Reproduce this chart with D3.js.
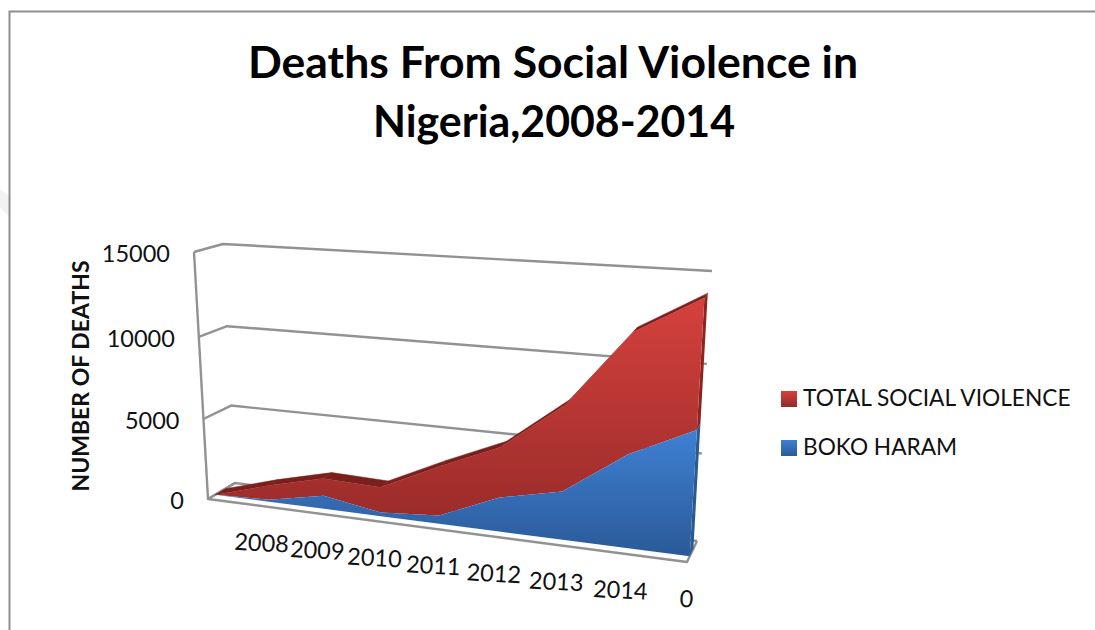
<!DOCTYPE html>
<html><head><meta charset="utf-8">
<script src="https://cdn.jsdelivr.net/npm/d3@7"></script>
<style>html,body{margin:0;padding:0;background:#fff}svg{display:block}text{font-family:Lato,"Open Sans",sans-serif;fill:#111}</style>
</head><body><svg id="c" width="1095" height="630"></svg>
<script>
const categories = ["", "2008", "2009", "2010", "2011", "2012", "2013", "2014", "0"];
const bokoHaram = [0, 120, 800, 220, 490, 1990, 2770, 5300, 7000];
const totalViolence = [0, 1000, 1850, 1750, 3400, 4930, 7670, 12000, 14050];
const yTicks = [0, 5000, 10000, 15000];
const titleLines = ["Deaths From Social Violence in", "Nigeria,2008-2014"];
const titleWidths = [610, 362];
const legendItems = ["TOTAL SOCIAL VIOLENCE", "BOKO HARAM"];
const yTitle = "NUMBER OF DEATHS";

const svg = d3.select("#c");
// projection box of the 3D chart (floor and ceiling corners)
const box = {
  floor: {fl:[208,499], fr:[687,562], bl:[235,483], br:[697,541]},
  top:   {fl:[194,252], fr:[703,283], bl:[223,244], br:[712,271]}
};
const xPos = d3.scalePoint().domain(d3.range(categories.length)).range([0,1]);
const yFrac = d3.scaleLinear().domain(yTicks).range([0,.324,.656,1]);
const persp = u => u/(u+1.12*(1-u));
const mix = (a,b,t)=>[a[0]+(b[0]-a[0])*t,a[1]+(b[1]-a[1])*t];
function project(i,v,d){
  const s = persp(xPos(i)/1), f = yFrac(v);
  const pl = (k)=>mix(mix(box[k].fl,box[k].fr,s),mix(box[k].bl,box[k].br,s),d);
  return mix(pl("floor"),pl("top"),f);
}
const D0=.27, D1=.64;
const line = d3.line();
const idx = d3.range(categories.length);
const last = categories.length-1;

// decorative page edge
svg.append("path").attr("d","M0,189L9,196L9,216L0,208Z").attr("fill","#f2f2f2");
svg.append("path").attr("d","M9.5,1000V11.5H1095").attr("fill","none").attr("stroke","#8e8e8e").attr("stroke-width",2);

// gradients
const defs = svg.append("defs");
function grad(id,c0,c1,y0,y1){
  const g=defs.append("linearGradient").attr("id",id).attr("gradientUnits","userSpaceOnUse")
    .attr("x1",0).attr("x2",0).attr("y1",y0).attr("y2",y1);
  g.append("stop").attr("offset",0).attr("stop-color",c0);
  g.append("stop").attr("offset",1).attr("stop-color",c1);
}
grad("gRed","#d5413d","#982b29",project(last,totalViolence[last],D0)[1],project(last,0,D0)[1]-30);
grad("gBlue","#3f80d3","#2a5a97",project(last,bokoHaram[last],D0)[1],project(last,0,D0)[1]);
grad("lRed","#d5413d","#932b29",0,16);
grad("lBlue","#3f80d3","#2a5a97",0,16);

// walls
const grid = svg.append("g").attr("fill","none").attr("stroke","#929292").attr("stroke-width",2.4).attr("stroke-linejoin","round");
yTicks.forEach(t=>{
  grid.append("path").attr("d",line([project(0,t,0),project(0,t,1),project(last,t,1)]));
});
grid.append("path").attr("d",line([project(0,0,0),project(0,15000,0)]));
grid.append("path").attr("d",line([project(0,0,1),project(0,0,0),project(last,0,0),project(last,0,1)]));

// red: top strip, face, cap
idx.slice(0,-1).forEach(i=>{
  svg.append("path").attr("fill","#7a1f1c").attr("stroke","#7a1f1c").attr("stroke-width",.5)
    .attr("d",line([project(i,totalViolence[i],D0),project(i+1,totalViolence[i+1],D0),project(i+1,totalViolence[i+1],D1),project(i,totalViolence[i],D1)])+"Z");
});
svg.append("path").attr("fill","#8a2523").attr("d",line([project(last,bokoHaram[last],D0),project(last,totalViolence[last],D0),project(last,totalViolence[last],D1),project(last,bokoHaram[last],D1)])+"Z");
svg.append("path").attr("fill","#2b5a90").attr("d",line([project(last,0,D0),project(last,bokoHaram[last],D0),project(last,bokoHaram[last],D1),project(last,0,D1)])+"Z");
svg.append("path").attr("fill","url(#gRed)")
  .attr("d",line(idx.map(i=>project(i,totalViolence[i],D0)).concat(idx.slice().reverse().map(i=>project(i,bokoHaram[i],D0))))+"Z");
svg.append("path").attr("fill","url(#gBlue)")
  .attr("d",line(idx.map(i=>project(i,bokoHaram[i],D0)).concat(idx.slice().reverse().map(i=>project(i,0,D0))))+"Z");

// category labels
idx.slice(1).forEach(i=>{
  const p=project(i,0,0);
  svg.append("text").attr("text-anchor","middle").attr("font-size",23.5)
    .attr("transform",`translate(${p[0]-1},${p[1]+45}) rotate(3)`).text(categories[i]);
});
// value labels
yTicks.forEach(t=>{
  const p=project(0,t,0);
  svg.append("text").attr("text-anchor","end").attr("font-size",23.5).attr("x",p[0]-24).attr("y",p[1]+10).text(t);
});
// y title
svg.append("text").attr("text-anchor","middle").attr("font-size",23).attr("font-weight",700)
  .attr("transform","translate(89,376) rotate(-90)").text(yTitle);
// title
titleLines.forEach((t,i)=>{
  svg.append("text").attr("text-anchor","middle").attr("x",i?554:553).attr("y",78+i*59)
    .attr("font-size",44).attr("font-weight",700).style("fill","#000")
    .attr("textLength",titleWidths[i]).attr("lengthAdjust","spacingAndGlyphs").text(t);
});
// legend
legendItems.forEach((t,i)=>{
  const g=svg.append("g").attr("transform",`translate(781,${391+i*49})`);
  g.append("rect").attr("width",16).attr("height",16).attr("fill",i?"url(#lBlue)":"url(#lRed)");
  g.append("text").attr("x",22).attr("y",15).attr("font-size",22.7).text(t);
});
</script></body></html>
